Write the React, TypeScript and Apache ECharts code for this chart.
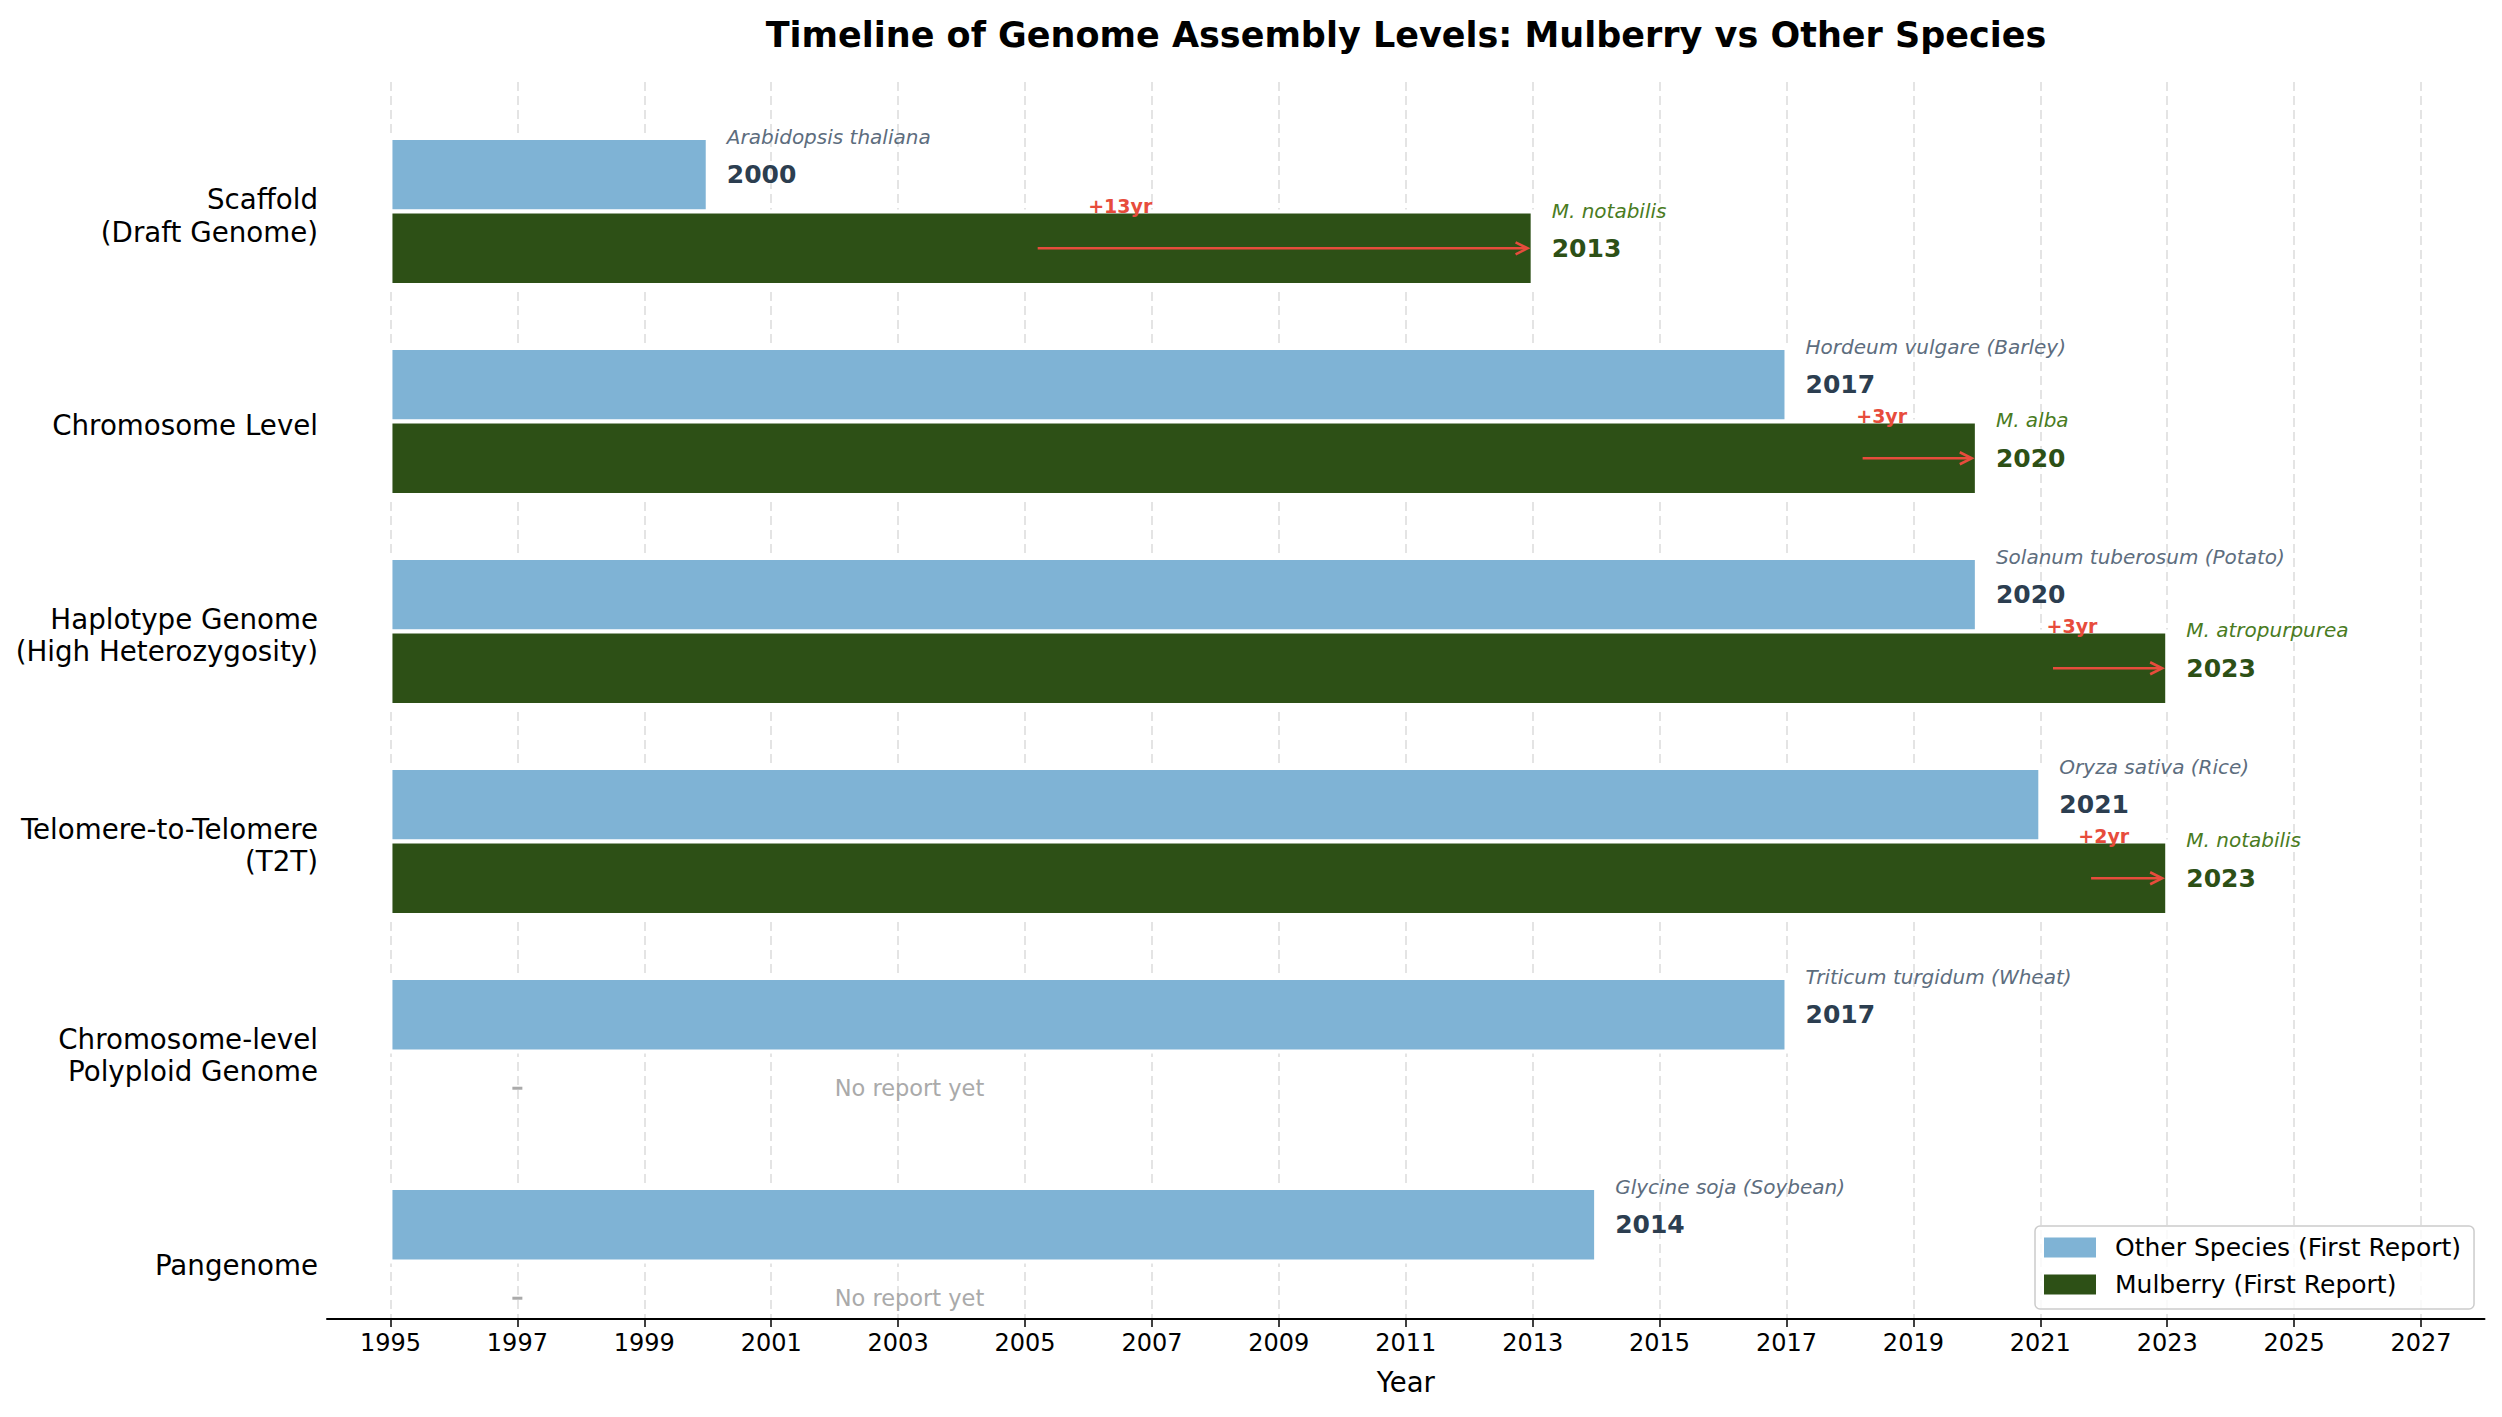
import React, { useEffect, useRef } from 'react';
import * as echarts from 'echarts';

// Assembly levels, top to bottom
const levels = [
  'Scaffold\n(Draft Genome)',
  'Chromosome Level',
  'Haplotype Genome\n(High Heterozygosity)',
  'Telomere-to-Telomere\n(T2T)',
  'Chromosome-level\nPolyploid Genome',
  'Pangenome',
];

// First report in any other species
const otherYears = [2000, 2017, 2020, 2021, 2017, 2014];
const otherSpecies = [
  'Arabidopsis thaliana',
  'Hordeum vulgare (Barley)',
  'Solanum tuberosum (Potato)',
  'Oryza sativa (Rice)',
  'Triticum turgidum (Wheat)',
  'Glycine soja (Soybean)',
];

// First report in mulberry (null = not reported yet)
const mulberryYears: (number | null)[] = [2013, 2020, 2023, 2023, null, null];
const mulberrySpecies: (string | null)[] = ['M. notabilis', 'M. alba', 'M. atropurpurea', 'M. notabilis', null, null];

const yearTicks = [1995, 1997, 1999, 2001, 2003, 2005, 2007, 2009, 2011, 2013, 2015, 2017, 2019, 2021, 2023, 2025, 2027];

const START_YEAR = 1995;
const NO_REPORT_MARK_YEAR = 1997;
const NO_REPORT_TEXT_YEAR = 2002;

const BAR_H = 0.35;
// category labels sit a touch below the group centre
const LABEL_NUDGE = 0.02;
const BLUE = '#7fb3d5';
const GREEN = '#2d5016';
const RED = '#e74c3c';
const FONT = '"DejaVu Sans", sans-serif';

const OTHER_NAME = 'Other Species (First Report)';
const MULBERRY_NAME = 'Mulberry (First Report)';

function renderOther(params: any, api: any) {
  const i = api.value(0);
  const year = api.value(1);
  const tl = api.coord([START_YEAR, i - BAR_H]);
  const br = api.coord([year, i]);
  const lx = api.coord([year + 0.3, i])[0];
  const cy = api.coord([year, i - BAR_H / 2])[1];
  const sy = api.coord([year, i - BAR_H / 2 - 0.18])[1];
  return {
    type: 'group',
    children: [
      {
        type: 'rect',
        shape: { x: tl[0], y: tl[1], width: br[0] - tl[0], height: br[1] - tl[1] },
        style: { fill: BLUE, stroke: '#ffffff', lineWidth: 4 },
      },
      {
        type: 'text',
        x: lx,
        y: sy,
        style: {
          text: otherSpecies[params.dataIndex],
          fill: '#5d6d7e',
          font: `italic 20px ${FONT}`,
          align: 'left',
          verticalAlign: 'middle',
        },
      },
      {
        type: 'text',
        x: lx,
        y: cy,
        style: {
          text: String(year),
          fill: '#2c3e50',
          font: `bold 25px ${FONT}`,
          align: 'left',
          verticalAlign: 'middle',
        },
      },
    ],
  };
}

function renderMulberry(params: any, api: any) {
  const i = api.value(0);
  const year = api.value(1);
  const other = otherYears[params.dataIndex];
  const gap = year - other;
  const tl = api.coord([START_YEAR, i]);
  const br = api.coord([year, i + BAR_H]);
  const lx = api.coord([year + 0.3, i])[0];
  const cy = api.coord([year, i + BAR_H / 2])[1];
  const sy = api.coord([year, i + BAR_H / 2 - 0.18])[1];
  const gy = api.coord([year, i + BAR_H / 2 - 0.2])[1];
  const ax0 = api.coord([year - 0.6 * gap, i])[0];
  const ax1 = api.coord([year - 0.08, i])[0];
  const gx = api.coord([(other + year) / 2, i])[0];
  return {
    type: 'group',
    children: [
      {
        type: 'rect',
        shape: { x: tl[0], y: tl[1], width: br[0] - tl[0], height: br[1] - tl[1] },
        style: { fill: GREEN, stroke: '#ffffff', lineWidth: 4 },
      },
      {
        type: 'line',
        shape: { x1: ax0, y1: cy, x2: ax1 - 1, y2: cy },
        style: { stroke: RED, lineWidth: 2.6 },
      },
      {
        type: 'polyline',
        shape: { points: [[ax1 - 12, cy - 6], [ax1, cy], [ax1 - 12, cy + 6]] },
        style: { stroke: RED, lineWidth: 2.6, fill: null },
      },
      {
        type: 'text',
        x: gx,
        y: gy,
        style: {
          text: `+${gap}yr`,
          fill: RED,
          font: `bold 19px ${FONT}`,
          align: 'center',
          verticalAlign: 'middle',
        },
      },
      {
        type: 'text',
        x: lx,
        y: sy,
        style: {
          text: mulberrySpecies[params.dataIndex],
          fill: '#4a7c1f',
          font: `italic 20px ${FONT}`,
          align: 'left',
          verticalAlign: 'middle',
        },
      },
      {
        type: 'text',
        x: lx,
        y: cy,
        style: {
          text: String(year),
          fill: GREEN,
          font: `bold 25px ${FONT}`,
          align: 'left',
          verticalAlign: 'middle',
        },
      },
    ],
  };
}

function renderNoReport(params: any, api: any) {
  const i = api.value(0);
  const c = api.coord([NO_REPORT_MARK_YEAR, i + BAR_H / 2]);
  const tx = api.coord([NO_REPORT_TEXT_YEAR, i + BAR_H / 2])[0];
  return {
    type: 'group',
    children: [
      {
        type: 'rect',
        shape: { x: c[0] - 5, y: c[1] - 1.5, width: 10, height: 3 },
        style: { fill: '#aaaaaa' },
      },
      {
        type: 'text',
        x: tx,
        y: c[1],
        style: {
          text: 'No report yet',
          fill: '#aaaaaa',
          font: `22.5px ${FONT}`,
          align: 'left',
          verticalAlign: 'middle',
        },
      },
    ],
  };
}

export default function App() {
  const ref = useRef<HTMLDivElement>(null);

  useEffect(() => {
    document.body.style.margin = '0';
    document.body.style.overflow = 'hidden';
    if (!ref.current) return;
    const chart = echarts.init(ref.current, null, { renderer: 'svg' });

    const otherData = otherYears.map((y, i) => [i, y]);
    const mulberryData = mulberryYears
      .map((y, i) => (y == null ? null : [i, y]))
      .filter((d) => d !== null) as number[][];
    const noReportData = mulberryYears
      .map((y, i) => (y == null ? [i, NO_REPORT_TEXT_YEAR] : null))
      .filter((d) => d !== null) as number[][];

    chart.setOption({
      animation: false,
      backgroundColor: '#ffffff',
      textStyle: { fontFamily: FONT },
      title: {
        text: 'Timeline of Genome Assembly Levels: Mulberry vs Other Species',
        left: 1401,
        textAlign: 'center',
        top: 12,
        textStyle: { fontSize: 35, fontWeight: 'bold', color: '#000000', fontFamily: FONT },
      },
      legend: {
        data: [OTHER_NAME, MULBERRY_NAME],
        orient: 'vertical',
        left: 2035,
        top: 1226,
        icon: 'rect',
        itemWidth: 52,
        itemHeight: 20,
        itemGap: 12,
        padding: [9, 13, 12, 9],
        borderColor: '#cccccc',
        borderWidth: 1.5,
        borderRadius: 5,
        backgroundColor: 'rgba(255,255,255,0.8)',
        textStyle: { fontSize: 25, color: '#000000', fontFamily: FONT, padding: [0, 0, 0, 14] },
      },
      grid: { left: 327, right: 17.5, top: 82, bottom: 98 },
      xAxis: {
        type: 'value',
        min: 1994,
        max: 2028,
        name: 'Year',
        nameLocation: 'middle',
        nameGap: 49,
        nameTextStyle: { fontSize: 27.5, color: '#000000', fontFamily: FONT },
        axisLine: { show: true, onZero: false, lineStyle: { color: '#000000', width: 2 } },
        axisTick: { show: true, customValues: yearTicks, length: 8, lineStyle: { color: '#000000', width: 1.5 } },
        axisLabel: {
          customValues: yearTicks,
          fontSize: 24,
          color: '#000000',
          margin: 12,
          formatter: (v: number) => String(v),
        },
        splitLine: { show: true, lineStyle: { color: '#dcdcdc', width: 1.5, type: [9, 5] } },
      },
      yAxis: {
        type: 'value',
        inverse: true,
        min: -0.617,
        max: 5.274,
        axisLine: { show: false },
        axisTick: { show: false },
        splitLine: { show: false },
        axisLabel: {
          customValues: levels.map((_, i) => i + LABEL_NUDGE),
          formatter: (v: number) => levels[Math.round(v)] ?? '',
          fontSize: 27.7,
          lineHeight: 32.5,
          color: '#000000',
          margin: 9,
        },
      },
      series: [
        {
          name: OTHER_NAME,
          type: 'custom',
          itemStyle: { color: BLUE },
          encode: { x: 1, y: 0 },
          data: otherData,
          renderItem: renderOther,
        },
        {
          name: MULBERRY_NAME,
          type: 'custom',
          itemStyle: { color: GREEN },
          encode: { x: 1, y: 0 },
          data: mulberryData,
          renderItem: renderMulberry,
        },
        {
          name: 'no-report',
          type: 'custom',
          encode: { x: 1, y: 0 },
          data: noReportData,
          renderItem: renderNoReport,
          silent: true,
        },
      ],
    });

    return () => chart.dispose();
  }, []);

  return <div ref={ref} style={{ width: 2502, height: 1417 }} />;
}
